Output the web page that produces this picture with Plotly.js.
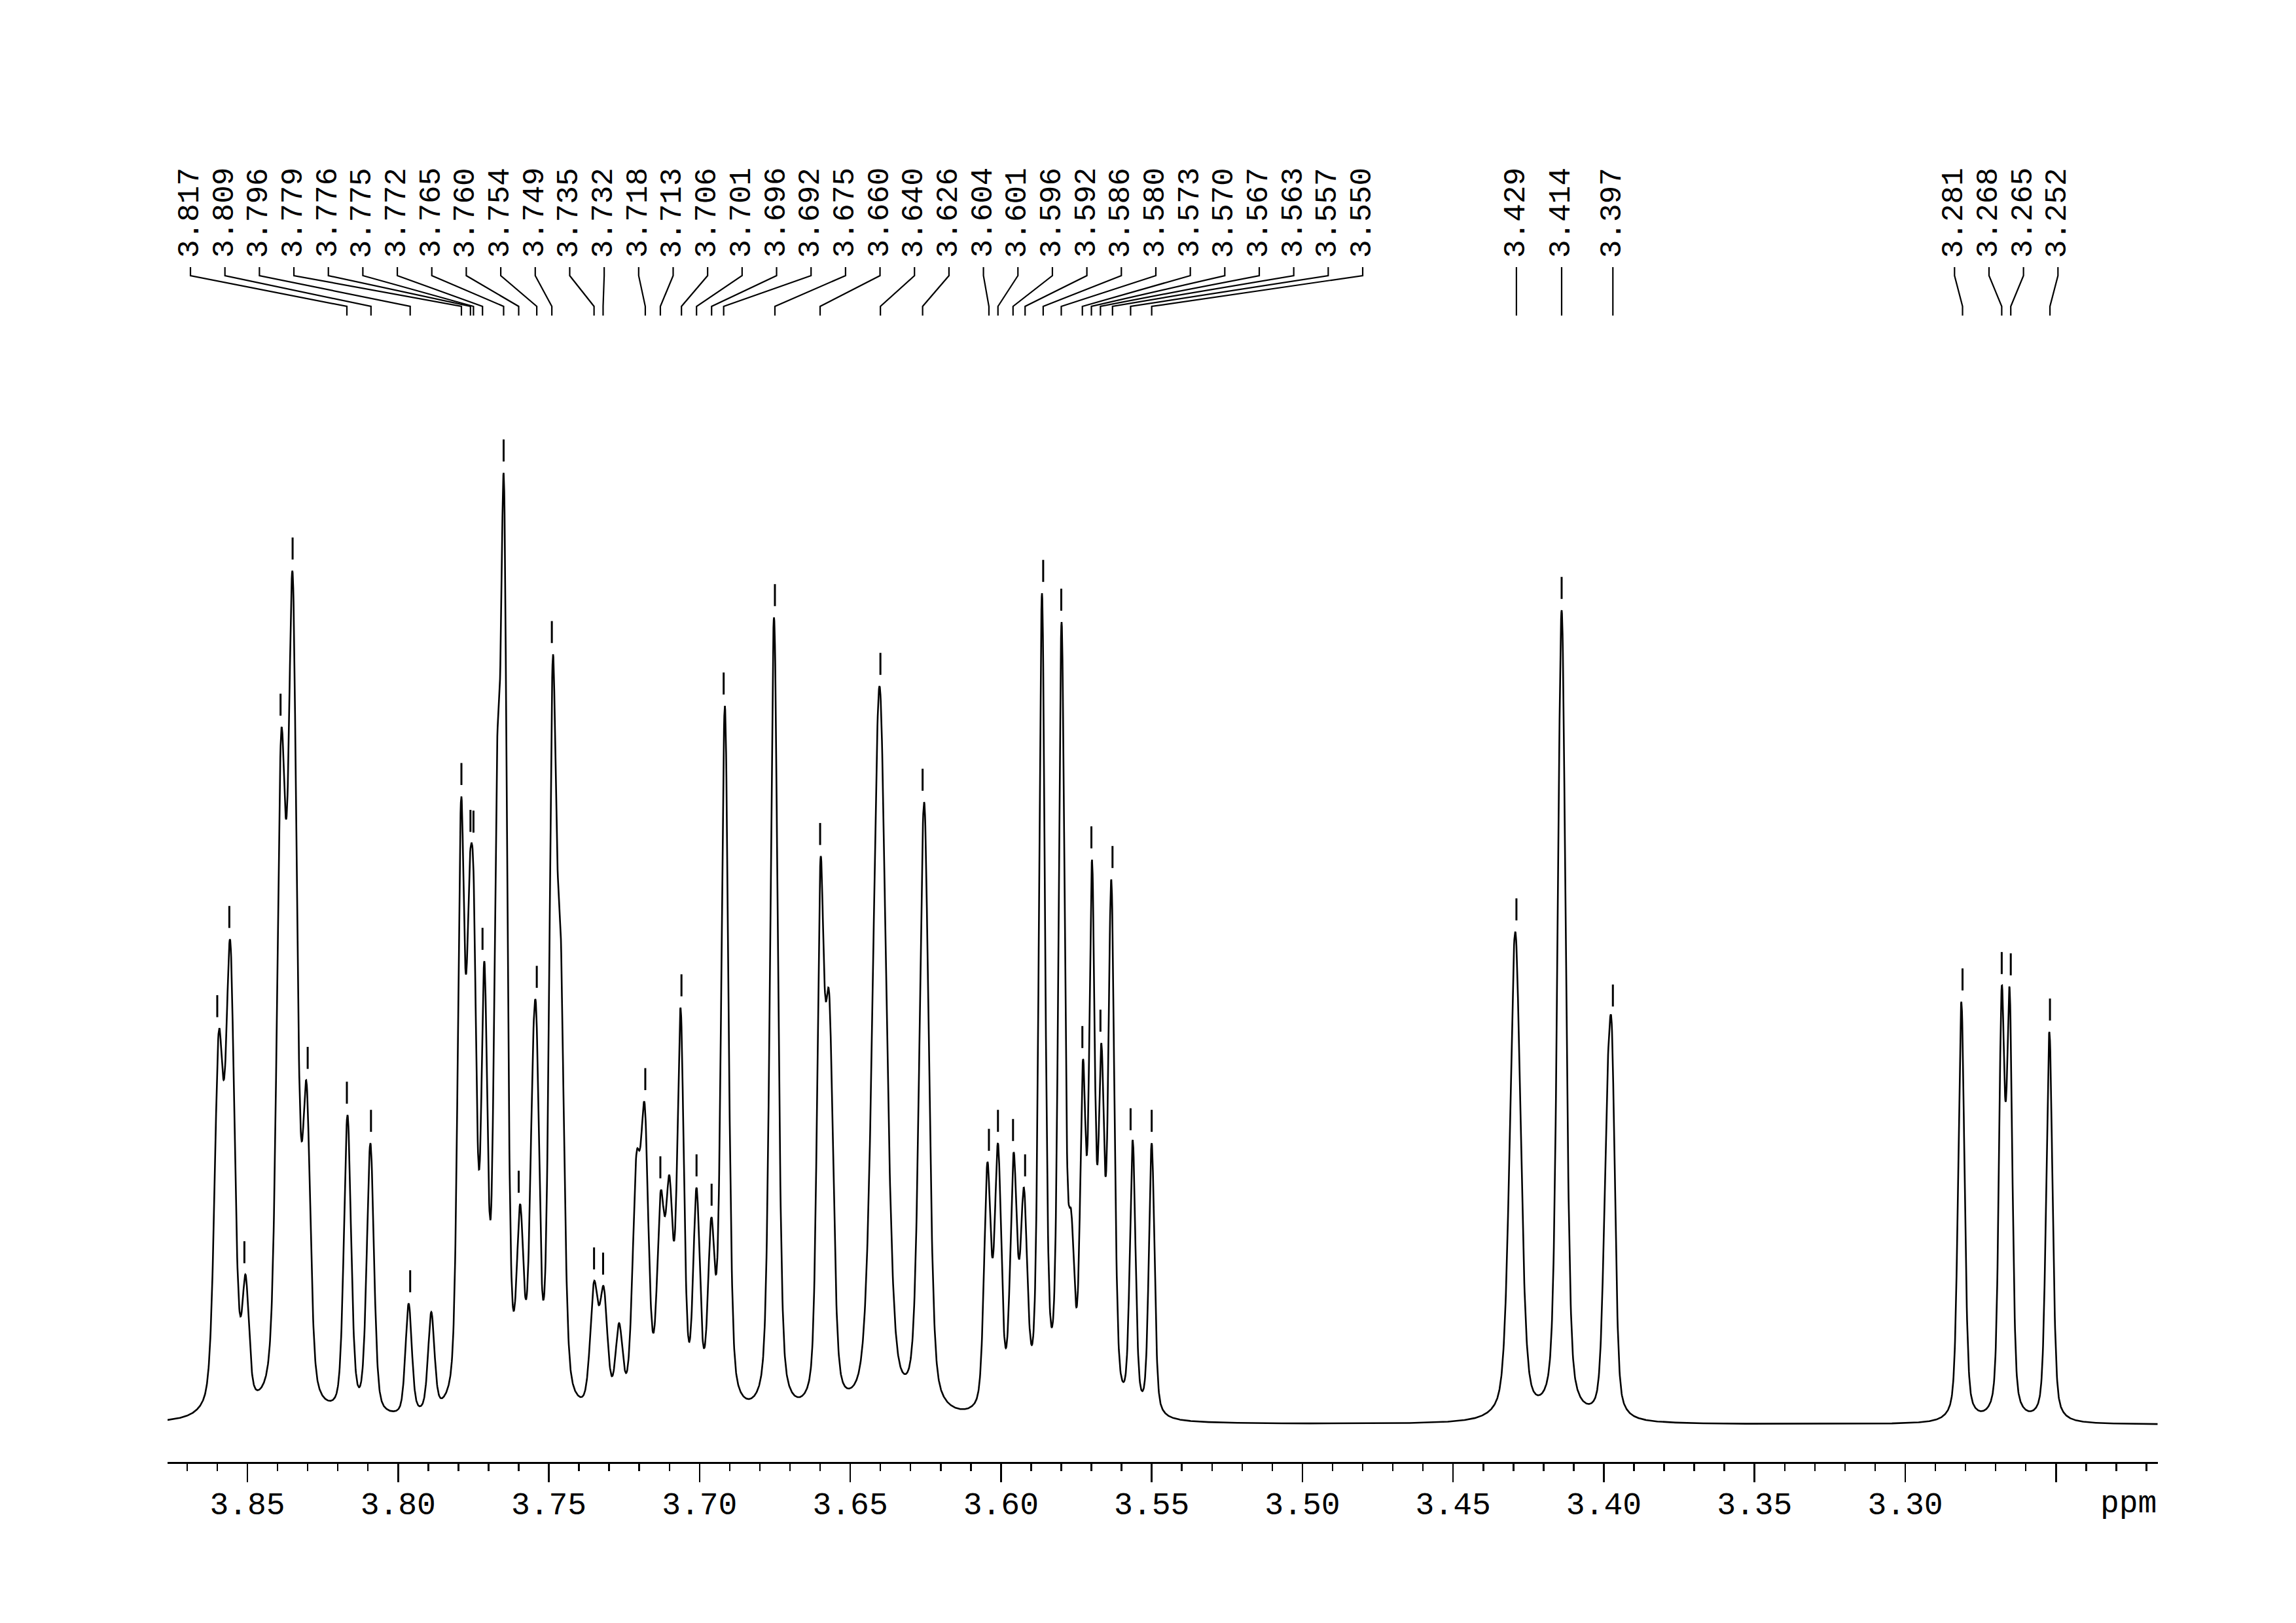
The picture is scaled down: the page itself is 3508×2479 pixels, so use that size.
<!DOCTYPE html>
<html><head><meta charset="utf-8">
<script src="https://cdn.plot.ly/plotly-3.0.1.min.js"></script>
<style>html,body{margin:0;padding:0;background:#fff;}</style>
</head><body>
<div id="chart" style="width:3508px;height:2479px;"></div>
<script>
// ---- data ----
// resolved spectral components: position (ppm), apex height (a.u.), full width (ppm)
const compPpm = [3.8595,3.8557,3.8506,3.8388,3.8350,3.8304,3.8168,3.8092,3.7965,3.7890,
  3.7791,3.7764,3.7749,3.7714,3.7672,3.7649,3.7595,3.7554,3.7541,3.7487,3.7461,
  3.7350,3.7318,3.7267,3.7210,3.7182,3.7129,3.7100,3.7063,3.7010,3.6961,3.6916,
  3.6753,3.6599,3.6570,3.6403,3.6255,3.6045,3.6010,3.5958,3.5924,3.5864,3.5799,
  3.5767,3.5728,3.5698,3.5667,3.5634,3.5563,3.5500,
  3.4294,3.4140,3.3990,3.3973,
  3.2814,3.2680,3.2654,3.2522];
const compHeight = [602,740,229,1059,1302,524,473,430,185,172,
  958,843,828,708,1030,1447,337,553,624,1172,760,
  219,211,155,411,490,357,381,637,362,317,1098,
  1233,863,660,1128,951,401,430,416,362,1270,1226,
  327,558,863,583,833,435,430,
  753,1244,508,603,
  646,670,668,600];
const compWidth = [0.0034,0.0034,0.0026,0.0034,0.0034,0.0030,0.0028,0.0028,0.0025,0.0025,
  0.0026,0.0024,0.0024,0.0024,0.0024,0.0025,0.0026,0.0026,0.0024,0.0027,0.0028,
  0.0030,0.0030,0.0028,0.0030,0.0030,0.0028,0.0028,0.0026,0.0026,0.0026,0.0028,
  0.0030,0.0026,0.0032,0.0052,0.0037,0.0026,0.0026,0.0026,0.0026,0.0024,0.0024,
  0.0024,0.0022,0.0022,0.0022,0.0024,0.0022,0.0022,
  0.0042,0.0032,0.0028,0.0026,
  0.0025,0.0022,0.0022,0.0025];
// picked peaks with printed labels
const labeledPeaks = [3.817,3.809,3.796,3.779,3.776,3.775,3.772,3.765,3.760,3.754,3.749,
  3.735,3.732,3.718,3.713,3.706,3.701,3.696,3.692,3.675,3.660,3.640,3.626,3.604,3.601,
  3.596,3.592,3.586,3.580,3.573,3.570,3.567,3.563,3.557,3.550,
  3.429,3.414,3.397,
  3.281,3.268,3.265,3.252];
// picked peaks without printed labels
const unlabeledPeaks = [3.860,3.856,3.851,3.839,3.835,3.830];
const tickVals = [3.85,3.80,3.75,3.70,3.65,3.60,3.55,3.50,3.45,3.40,3.35,3.30,3.25];
const tickText = ["3.85","3.80","3.75","3.70","3.65","3.60","3.55","3.50","3.45","3.40","3.35","3.30",""];

// ---- layout constants ----
const X_LEFT = 3.87649, X_RIGHT = 3.21619;
const ETA = 0.42;               // Lorentzian fraction of line shape
const LABEL_STEP = 0.011438;    // spacing of spread labels (ppm)
const GROUP1_START = 3.86889;   // first label of the crowded group
const Y_TOP = 1768, Y_K1 = 1755, Y_K2 = 1708, Y_BOT = 1694, Y_TXT = 1781;
const MARK_OFF = 34;

function lineShape(x, x0, w) {
  const d = (x - x0) / (w / 2);
  return ETA / (1 + d * d) + (1 - ETA) * Math.exp(-Math.LN2 * d * d);
}
// amplitudes so that the summed curve meets each read apex height
const n = compPpm.length;
const amp = compHeight.slice();
for (let it = 0; it < 800; it++) {
  for (let i = 0; i < n; i++) {
    let s = 0;
    for (let j = 0; j < n; j++) if (j !== i) s += amp[j] * lineShape(compPpm[i], compPpm[j], compWidth[j]);
    amp[i] = Math.max(0, compHeight[i] - s);
  }
}
function spec(x) {
  let s = 0;
  for (let j = 0; j < n; j++) s += amp[j] * lineShape(x, compPpm[j], compWidth[j]);
  return s;
}
const sx = [], sy = [];
for (let x = X_LEFT; x >= X_RIGHT; x -= 0.0001) { sx.push(x); sy.push(spec(x)); }

// peak pick marks
const allPicks = unlabeledPeaks.concat(labeledPeaks);
const mx = allPicks, my = allPicks.map(p => {
  let best = spec(p);
  for (let d = -0.0006; d <= 0.0006; d += 0.0001) best = Math.max(best, spec(p + d));
  return best + MARK_OFF;
});

// label positions
const labelX = labeledPeaks.map((p, i) => {
  if (i <= 34) return GROUP1_START - i * LABEL_STEP;
  if (i <= 37) return p;
  const g = labeledPeaks.slice(38);
  const mean = g.reduce((a, b) => a + b, 0) / g.length;
  return mean + (1.5 - (i - 38)) * LABEL_STEP;
});
const cx = [], cy = [];
labeledPeaks.forEach((p, i) => {
  cx.push(labelX[i], labelX[i], p, p, null);
  cy.push(Y_TOP, Y_K1, Y_K2, Y_BOT, null);
});

const annotations = labeledPeaks.map((p, i) => ({
  x: labelX[i], y: Y_TXT, xref: 'x', yref: 'y', text: p.toFixed(3),
  showarrow: false, textangle: -90, xanchor: 'center', yanchor: 'bottom', borderpad: 0,
  font: {family: 'Liberation Mono', size: 46, color: '#000'}
}));
annotations.push({x: 1, y: -0.030, xref: 'paper', yref: 'paper', text: 'ppm', showarrow: false,
  xanchor: 'right', yanchor: 'middle', font: {family: 'Liberation Mono', size: 48, color: '#000'}});

const traces = [
  {x: sx, y: sy, type: 'scatter', mode: 'lines', line: {color: '#000', width: 2.6}, hoverinfo: 'skip'},
  {x: mx, y: my, type: 'scatter', mode: 'markers', marker: {symbol: 'line-ns', size: 24, color: '#000', line: {color: '#000', width: 3}}, hoverinfo: 'skip'},
  {x: cx, y: cy, type: 'scatter', mode: 'lines', line: {color: '#000', width: 2.2}, hoverinfo: 'skip', cliponaxis: false}
];
const layout = {
  width: 3508, height: 2479, showlegend: false,
  paper_bgcolor: '#fff', plot_bgcolor: '#fff',
  margin: {l: 256, r: 211, t: 100, b: 246, pad: 0},
  xaxis: {range: [X_LEFT, X_RIGHT], showgrid: false, zeroline: false, showline: true,
    linecolor: '#000', linewidth: 3, ticks: 'outside', ticklen: 28, tickwidth: 2.5, tickcolor: '#000',
    tickmode: 'array', tickvals: tickVals, ticktext: tickText, ticklabelstandoff: -9,
    tickfont: {family: 'Liberation Mono', size: 48, color: '#000'},
    minor: {tickmode: 'linear', tick0: 3.0, dtick: 0.01, ticks: 'outside', ticklen: 11, tickwidth: 2.5, tickcolor: '#000', showgrid: false}},
  yaxis: {range: [-57, 2076], showgrid: false, zeroline: false, showline: false, showticklabels: false, ticks: ''},
  annotations: annotations
};
Plotly.newPlot('chart', traces, layout, {staticPlot: true});
</script>
</body></html>
